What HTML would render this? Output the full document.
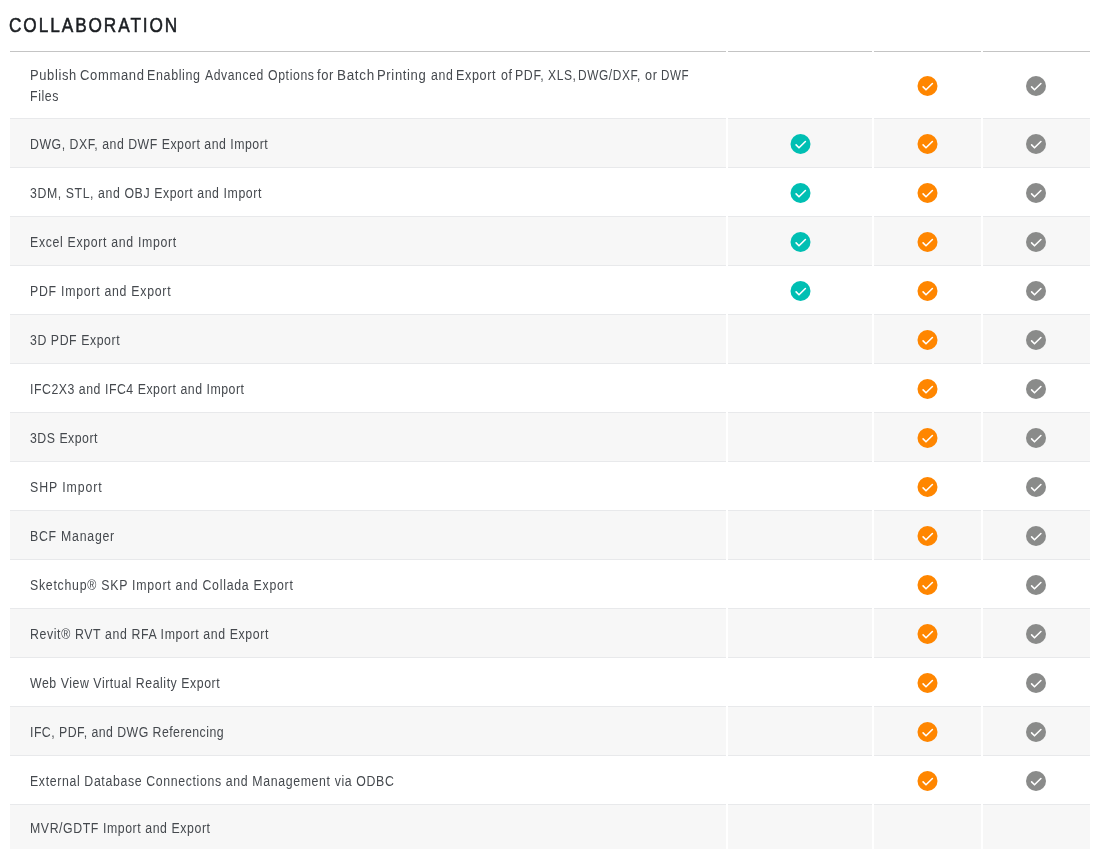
<!DOCTYPE html>
<html><head><meta charset="utf-8"><style>
html,body{margin:0;padding:0;background:#fff;width:1098px;height:849px;overflow:hidden;position:relative}
body{font-family:"Liberation Sans",sans-serif}
.wrap{position:absolute;left:0;top:0;width:1098px;height:849px;will-change:transform}
.title{position:absolute;left:9px;top:13px;font-size:20.5px;line-height:24px;color:#1b1e22;white-space:nowrap;letter-spacing:2.3px;transform:scaleX(0.84);transform-origin:0 0;-webkit-text-stroke:0.55px #1b1e22}
.h{position:absolute;top:51px;height:1px;background:#c4c4c4}
.g{position:absolute;background:#f7f7f7;border-top:1px solid #e8e9eb;border-bottom:1px solid #e8e9eb}
.t{position:absolute;left:30px;font-size:14px;line-height:21px;color:#45494e;white-space:nowrap;word-spacing:0px;transform:scaleX(0.88);transform-origin:0 0}
.ic{position:absolute;display:block}
</style></head><body><div class="wrap">
<div class="title">COLLABORATION</div>
<div class="h" style="left:10px;width:716px"></div><div class="h" style="left:728px;width:144px"></div><div class="h" style="left:874px;width:107px"></div><div class="h" style="left:983px;width:107px"></div>
<div class="t" style="top:65px;left:29.7px;letter-spacing:0.693px;transform:scaleX(0.922)">Publish</div><div class="t" style="top:65px;left:79.5px;letter-spacing:0.693px;transform:scaleX(0.931)">Command</div><div class="t" style="top:65px;left:147.3px;letter-spacing:0.693px;transform:scaleX(0.894)">Enabling</div><div class="t" style="top:65px;left:205.0px;letter-spacing:0.693px;transform:scaleX(0.868)">Advanced</div><div class="t" style="top:65px;left:267.6px;letter-spacing:0.693px;transform:scaleX(0.878)">Options</div><div class="t" style="top:65px;left:317.4px;letter-spacing:0.693px;transform:scaleX(0.925)">for</div><div class="t" style="top:65px;left:336.8px;letter-spacing:0.693px;transform:scaleX(0.963)">Batch</div><div class="t" style="top:65px;left:377.3px;letter-spacing:0.693px;transform:scaleX(0.932)">Printing</div><div class="t" style="top:65px;left:430.6px;letter-spacing:0.693px;transform:scaleX(0.880)">and</div><div class="t" style="top:65px;left:456.3px;letter-spacing:0.693px;transform:scaleX(0.901)">Export</div><div class="t" style="top:65px;left:500.5px;letter-spacing:0.693px;transform:scaleX(0.891)">of</div><div class="t" style="top:65px;left:514.7px;letter-spacing:0.693px;transform:scaleX(0.884)">PDF,</div><div class="t" style="top:65px;left:547.5px;letter-spacing:0.693px;transform:scaleX(0.861)">XLS,</div><div class="t" style="top:65px;left:578.1px;letter-spacing:0.693px;transform:scaleX(0.849)">DWG/DXF,</div><div class="t" style="top:65px;left:644.8px;letter-spacing:0.693px;transform:scaleX(0.902)">or</div><div class="t" style="top:65px;left:661.0px;letter-spacing:0.693px;transform:scaleX(0.830)">DWF</div><div class="t" style="top:86px;letter-spacing:0.693px">Files</div><svg class="ic" style="left:917px;top:76px" width="21" height="20" viewBox="0 0 21 20"><g transform="translate(0.5,0)"><circle cx="10" cy="10" r="10" fill="#ff8600"/><path d="M5.6 10.9 L8.5 13.8 L14.9 7.5" fill="none" stroke="#fff" stroke-width="1.6" stroke-linecap="round" stroke-linejoin="round"/></g></svg><svg class="ic" style="left:1026px;top:76px" width="21" height="20" viewBox="0 0 21 20"><g transform="translate(0,0)"><circle cx="10" cy="10" r="10" fill="#8a8b8a"/><path d="M5.6 10.9 L8.5 13.8 L14.9 7.5" fill="none" stroke="#fff" stroke-width="1.6" stroke-linecap="round" stroke-linejoin="round"/></g></svg><div class="g" style="left:10px;top:118px;width:716px;height:48px"></div><div class="g" style="left:728px;top:118px;width:144px;height:48px"></div><div class="g" style="left:874px;top:118px;width:107px;height:48px"></div><div class="g" style="left:983px;top:118px;width:107px;height:48px"></div><div class="t" style="top:134px;letter-spacing:0.578px">DWG, DXF, and DWF Export and Import</div><svg class="ic" style="left:790px;top:134px" width="21" height="20" viewBox="0 0 21 20"><g transform="translate(0.5,0)"><circle cx="10" cy="10" r="10" fill="#00bfb3"/><path d="M5.6 10.9 L8.5 13.8 L14.9 7.5" fill="none" stroke="#fff" stroke-width="1.6" stroke-linecap="round" stroke-linejoin="round"/></g></svg><svg class="ic" style="left:917px;top:134px" width="21" height="20" viewBox="0 0 21 20"><g transform="translate(0.5,0)"><circle cx="10" cy="10" r="10" fill="#ff8600"/><path d="M5.6 10.9 L8.5 13.8 L14.9 7.5" fill="none" stroke="#fff" stroke-width="1.6" stroke-linecap="round" stroke-linejoin="round"/></g></svg><svg class="ic" style="left:1026px;top:134px" width="21" height="20" viewBox="0 0 21 20"><g transform="translate(0,0)"><circle cx="10" cy="10" r="10" fill="#8a8b8a"/><path d="M5.6 10.9 L8.5 13.8 L14.9 7.5" fill="none" stroke="#fff" stroke-width="1.6" stroke-linecap="round" stroke-linejoin="round"/></g></svg><div class="t" style="top:183px;letter-spacing:0.662px">3DM, STL, and OBJ Export and Import</div><svg class="ic" style="left:790px;top:183px" width="21" height="20" viewBox="0 0 21 20"><g transform="translate(0.5,0)"><circle cx="10" cy="10" r="10" fill="#00bfb3"/><path d="M5.6 10.9 L8.5 13.8 L14.9 7.5" fill="none" stroke="#fff" stroke-width="1.6" stroke-linecap="round" stroke-linejoin="round"/></g></svg><svg class="ic" style="left:917px;top:183px" width="21" height="20" viewBox="0 0 21 20"><g transform="translate(0.5,0)"><circle cx="10" cy="10" r="10" fill="#ff8600"/><path d="M5.6 10.9 L8.5 13.8 L14.9 7.5" fill="none" stroke="#fff" stroke-width="1.6" stroke-linecap="round" stroke-linejoin="round"/></g></svg><svg class="ic" style="left:1026px;top:183px" width="21" height="20" viewBox="0 0 21 20"><g transform="translate(0,0)"><circle cx="10" cy="10" r="10" fill="#8a8b8a"/><path d="M5.6 10.9 L8.5 13.8 L14.9 7.5" fill="none" stroke="#fff" stroke-width="1.6" stroke-linecap="round" stroke-linejoin="round"/></g></svg><div class="g" style="left:10px;top:216px;width:716px;height:48px"></div><div class="g" style="left:728px;top:216px;width:144px;height:48px"></div><div class="g" style="left:874px;top:216px;width:107px;height:48px"></div><div class="g" style="left:983px;top:216px;width:107px;height:48px"></div><div class="t" style="top:232px;letter-spacing:0.759px">Excel Export and Import</div><svg class="ic" style="left:790px;top:232px" width="21" height="20" viewBox="0 0 21 20"><g transform="translate(0.5,0)"><circle cx="10" cy="10" r="10" fill="#00bfb3"/><path d="M5.6 10.9 L8.5 13.8 L14.9 7.5" fill="none" stroke="#fff" stroke-width="1.6" stroke-linecap="round" stroke-linejoin="round"/></g></svg><svg class="ic" style="left:917px;top:232px" width="21" height="20" viewBox="0 0 21 20"><g transform="translate(0.5,0)"><circle cx="10" cy="10" r="10" fill="#ff8600"/><path d="M5.6 10.9 L8.5 13.8 L14.9 7.5" fill="none" stroke="#fff" stroke-width="1.6" stroke-linecap="round" stroke-linejoin="round"/></g></svg><svg class="ic" style="left:1026px;top:232px" width="21" height="20" viewBox="0 0 21 20"><g transform="translate(0,0)"><circle cx="10" cy="10" r="10" fill="#8a8b8a"/><path d="M5.6 10.9 L8.5 13.8 L14.9 7.5" fill="none" stroke="#fff" stroke-width="1.6" stroke-linecap="round" stroke-linejoin="round"/></g></svg><div class="t" style="top:281px;letter-spacing:0.832px">PDF Import and Export</div><svg class="ic" style="left:790px;top:281px" width="21" height="20" viewBox="0 0 21 20"><g transform="translate(0.5,0)"><circle cx="10" cy="10" r="10" fill="#00bfb3"/><path d="M5.6 10.9 L8.5 13.8 L14.9 7.5" fill="none" stroke="#fff" stroke-width="1.6" stroke-linecap="round" stroke-linejoin="round"/></g></svg><svg class="ic" style="left:917px;top:281px" width="21" height="20" viewBox="0 0 21 20"><g transform="translate(0.5,0)"><circle cx="10" cy="10" r="10" fill="#ff8600"/><path d="M5.6 10.9 L8.5 13.8 L14.9 7.5" fill="none" stroke="#fff" stroke-width="1.6" stroke-linecap="round" stroke-linejoin="round"/></g></svg><svg class="ic" style="left:1026px;top:281px" width="21" height="20" viewBox="0 0 21 20"><g transform="translate(0,0)"><circle cx="10" cy="10" r="10" fill="#8a8b8a"/><path d="M5.6 10.9 L8.5 13.8 L14.9 7.5" fill="none" stroke="#fff" stroke-width="1.6" stroke-linecap="round" stroke-linejoin="round"/></g></svg><div class="g" style="left:10px;top:314px;width:716px;height:48px"></div><div class="g" style="left:728px;top:314px;width:144px;height:48px"></div><div class="g" style="left:874px;top:314px;width:107px;height:48px"></div><div class="g" style="left:983px;top:314px;width:107px;height:48px"></div><div class="t" style="top:330px;letter-spacing:0.636px">3D PDF Export</div><svg class="ic" style="left:917px;top:330px" width="21" height="20" viewBox="0 0 21 20"><g transform="translate(0.5,0)"><circle cx="10" cy="10" r="10" fill="#ff8600"/><path d="M5.6 10.9 L8.5 13.8 L14.9 7.5" fill="none" stroke="#fff" stroke-width="1.6" stroke-linecap="round" stroke-linejoin="round"/></g></svg><svg class="ic" style="left:1026px;top:330px" width="21" height="20" viewBox="0 0 21 20"><g transform="translate(0,0)"><circle cx="10" cy="10" r="10" fill="#8a8b8a"/><path d="M5.6 10.9 L8.5 13.8 L14.9 7.5" fill="none" stroke="#fff" stroke-width="1.6" stroke-linecap="round" stroke-linejoin="round"/></g></svg><div class="t" style="top:379px;letter-spacing:0.596px">IFC2X3 and IFC4 Export and Import</div><svg class="ic" style="left:917px;top:379px" width="21" height="20" viewBox="0 0 21 20"><g transform="translate(0.5,0)"><circle cx="10" cy="10" r="10" fill="#ff8600"/><path d="M5.6 10.9 L8.5 13.8 L14.9 7.5" fill="none" stroke="#fff" stroke-width="1.6" stroke-linecap="round" stroke-linejoin="round"/></g></svg><svg class="ic" style="left:1026px;top:379px" width="21" height="20" viewBox="0 0 21 20"><g transform="translate(0,0)"><circle cx="10" cy="10" r="10" fill="#8a8b8a"/><path d="M5.6 10.9 L8.5 13.8 L14.9 7.5" fill="none" stroke="#fff" stroke-width="1.6" stroke-linecap="round" stroke-linejoin="round"/></g></svg><div class="g" style="left:10px;top:412px;width:716px;height:48px"></div><div class="g" style="left:728px;top:412px;width:144px;height:48px"></div><div class="g" style="left:874px;top:412px;width:107px;height:48px"></div><div class="g" style="left:983px;top:412px;width:107px;height:48px"></div><div class="t" style="top:428px;letter-spacing:0.569px">3DS Export</div><svg class="ic" style="left:917px;top:428px" width="21" height="20" viewBox="0 0 21 20"><g transform="translate(0.5,0)"><circle cx="10" cy="10" r="10" fill="#ff8600"/><path d="M5.6 10.9 L8.5 13.8 L14.9 7.5" fill="none" stroke="#fff" stroke-width="1.6" stroke-linecap="round" stroke-linejoin="round"/></g></svg><svg class="ic" style="left:1026px;top:428px" width="21" height="20" viewBox="0 0 21 20"><g transform="translate(0,0)"><circle cx="10" cy="10" r="10" fill="#8a8b8a"/><path d="M5.6 10.9 L8.5 13.8 L14.9 7.5" fill="none" stroke="#fff" stroke-width="1.6" stroke-linecap="round" stroke-linejoin="round"/></g></svg><div class="t" style="top:477px;letter-spacing:1.040px">SHP Import</div><svg class="ic" style="left:917px;top:477px" width="21" height="20" viewBox="0 0 21 20"><g transform="translate(0.5,0)"><circle cx="10" cy="10" r="10" fill="#ff8600"/><path d="M5.6 10.9 L8.5 13.8 L14.9 7.5" fill="none" stroke="#fff" stroke-width="1.6" stroke-linecap="round" stroke-linejoin="round"/></g></svg><svg class="ic" style="left:1026px;top:477px" width="21" height="20" viewBox="0 0 21 20"><g transform="translate(0,0)"><circle cx="10" cy="10" r="10" fill="#8a8b8a"/><path d="M5.6 10.9 L8.5 13.8 L14.9 7.5" fill="none" stroke="#fff" stroke-width="1.6" stroke-linecap="round" stroke-linejoin="round"/></g></svg><div class="g" style="left:10px;top:510px;width:716px;height:48px"></div><div class="g" style="left:728px;top:510px;width:144px;height:48px"></div><div class="g" style="left:874px;top:510px;width:107px;height:48px"></div><div class="g" style="left:983px;top:510px;width:107px;height:48px"></div><div class="t" style="top:526px;letter-spacing:0.855px">BCF Manager</div><svg class="ic" style="left:917px;top:526px" width="21" height="20" viewBox="0 0 21 20"><g transform="translate(0.5,0)"><circle cx="10" cy="10" r="10" fill="#ff8600"/><path d="M5.6 10.9 L8.5 13.8 L14.9 7.5" fill="none" stroke="#fff" stroke-width="1.6" stroke-linecap="round" stroke-linejoin="round"/></g></svg><svg class="ic" style="left:1026px;top:526px" width="21" height="20" viewBox="0 0 21 20"><g transform="translate(0,0)"><circle cx="10" cy="10" r="10" fill="#8a8b8a"/><path d="M5.6 10.9 L8.5 13.8 L14.9 7.5" fill="none" stroke="#fff" stroke-width="1.6" stroke-linecap="round" stroke-linejoin="round"/></g></svg><div class="t" style="top:575px;letter-spacing:0.838px">Sketchup® SKP Import and Collada Export</div><svg class="ic" style="left:917px;top:575px" width="21" height="20" viewBox="0 0 21 20"><g transform="translate(0.5,0)"><circle cx="10" cy="10" r="10" fill="#ff8600"/><path d="M5.6 10.9 L8.5 13.8 L14.9 7.5" fill="none" stroke="#fff" stroke-width="1.6" stroke-linecap="round" stroke-linejoin="round"/></g></svg><svg class="ic" style="left:1026px;top:575px" width="21" height="20" viewBox="0 0 21 20"><g transform="translate(0,0)"><circle cx="10" cy="10" r="10" fill="#8a8b8a"/><path d="M5.6 10.9 L8.5 13.8 L14.9 7.5" fill="none" stroke="#fff" stroke-width="1.6" stroke-linecap="round" stroke-linejoin="round"/></g></svg><div class="g" style="left:10px;top:608px;width:716px;height:48px"></div><div class="g" style="left:728px;top:608px;width:144px;height:48px"></div><div class="g" style="left:874px;top:608px;width:107px;height:48px"></div><div class="g" style="left:983px;top:608px;width:107px;height:48px"></div><div class="t" style="top:624px;letter-spacing:0.701px">Revit® RVT and RFA Import and Export</div><svg class="ic" style="left:917px;top:624px" width="21" height="20" viewBox="0 0 21 20"><g transform="translate(0.5,0)"><circle cx="10" cy="10" r="10" fill="#ff8600"/><path d="M5.6 10.9 L8.5 13.8 L14.9 7.5" fill="none" stroke="#fff" stroke-width="1.6" stroke-linecap="round" stroke-linejoin="round"/></g></svg><svg class="ic" style="left:1026px;top:624px" width="21" height="20" viewBox="0 0 21 20"><g transform="translate(0,0)"><circle cx="10" cy="10" r="10" fill="#8a8b8a"/><path d="M5.6 10.9 L8.5 13.8 L14.9 7.5" fill="none" stroke="#fff" stroke-width="1.6" stroke-linecap="round" stroke-linejoin="round"/></g></svg><div class="t" style="top:673px;letter-spacing:0.620px">Web View Virtual Reality Export</div><svg class="ic" style="left:917px;top:673px" width="21" height="20" viewBox="0 0 21 20"><g transform="translate(0.5,0)"><circle cx="10" cy="10" r="10" fill="#ff8600"/><path d="M5.6 10.9 L8.5 13.8 L14.9 7.5" fill="none" stroke="#fff" stroke-width="1.6" stroke-linecap="round" stroke-linejoin="round"/></g></svg><svg class="ic" style="left:1026px;top:673px" width="21" height="20" viewBox="0 0 21 20"><g transform="translate(0,0)"><circle cx="10" cy="10" r="10" fill="#8a8b8a"/><path d="M5.6 10.9 L8.5 13.8 L14.9 7.5" fill="none" stroke="#fff" stroke-width="1.6" stroke-linecap="round" stroke-linejoin="round"/></g></svg><div class="g" style="left:10px;top:706px;width:716px;height:48px"></div><div class="g" style="left:728px;top:706px;width:144px;height:48px"></div><div class="g" style="left:874px;top:706px;width:107px;height:48px"></div><div class="g" style="left:983px;top:706px;width:107px;height:48px"></div><div class="t" style="top:722px;letter-spacing:0.521px">IFC, PDF, and DWG Referencing</div><svg class="ic" style="left:917px;top:722px" width="21" height="20" viewBox="0 0 21 20"><g transform="translate(0.5,0)"><circle cx="10" cy="10" r="10" fill="#ff8600"/><path d="M5.6 10.9 L8.5 13.8 L14.9 7.5" fill="none" stroke="#fff" stroke-width="1.6" stroke-linecap="round" stroke-linejoin="round"/></g></svg><svg class="ic" style="left:1026px;top:722px" width="21" height="20" viewBox="0 0 21 20"><g transform="translate(0,0)"><circle cx="10" cy="10" r="10" fill="#8a8b8a"/><path d="M5.6 10.9 L8.5 13.8 L14.9 7.5" fill="none" stroke="#fff" stroke-width="1.6" stroke-linecap="round" stroke-linejoin="round"/></g></svg><div class="t" style="top:771px;letter-spacing:0.723px">External Database Connections and Management via ODBC</div><svg class="ic" style="left:917px;top:771px" width="21" height="20" viewBox="0 0 21 20"><g transform="translate(0.5,0)"><circle cx="10" cy="10" r="10" fill="#ff8600"/><path d="M5.6 10.9 L8.5 13.8 L14.9 7.5" fill="none" stroke="#fff" stroke-width="1.6" stroke-linecap="round" stroke-linejoin="round"/></g></svg><svg class="ic" style="left:1026px;top:771px" width="21" height="20" viewBox="0 0 21 20"><g transform="translate(0,0)"><circle cx="10" cy="10" r="10" fill="#8a8b8a"/><path d="M5.6 10.9 L8.5 13.8 L14.9 7.5" fill="none" stroke="#fff" stroke-width="1.6" stroke-linecap="round" stroke-linejoin="round"/></g></svg><div class="g" style="left:10px;top:804px;width:716px;height:45px"></div><div class="g" style="left:728px;top:804px;width:144px;height:45px"></div><div class="g" style="left:874px;top:804px;width:107px;height:45px"></div><div class="g" style="left:983px;top:804px;width:107px;height:45px"></div><div class="t" style="top:818px;letter-spacing:0.652px">MVR/GDTF Import and Export</div>
</div></body></html>
